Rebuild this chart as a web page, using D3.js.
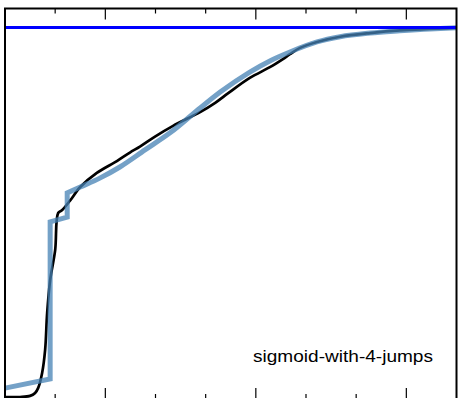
<!DOCTYPE html>
<html><head><meta charset="utf-8">
<script src="https://cdn.jsdelivr.net/npm/d3@7"></script>
<style>html,body{margin:0;padding:0;background:#fff;overflow:hidden}</style>
</head><body>
<script>
// Data (x in arbitrary units 0..9, y as fraction 0..1)
const modelX = [0, 0.90, 0.90, 1.24, 1.24, 1.50, 1.89, 2.29, 2.79, 3.29, 3.89, 4.29, 4.88, 5.28, 5.68, 6.22, 6.68, 7.28, 7.87, 8.47, 9.0];
const modelY = [0.028, 0.053, 0.476, 0.489, 0.554, 0.570, 0.594, 0.624, 0.670, 0.716, 0.783, 0.826, 0.880, 0.910, 0.934, 0.961, 0.975, 0.985, 0.991, 0.996, 0.999];
const empX = [0, 0.30, 0.50, 0.60, 0.66, 0.74, 0.80, 0.84, 0.90, 1.00, 1.06, 1.14, 1.30, 1.50, 1.83, 2.23, 2.49, 2.69, 2.99, 3.35, 3.89, 4.19, 4.45, 4.88, 5.28, 5.54, 5.68, 5.88, 6.22, 6.68, 7.28, 7.87, 9.0];
const empY = [0.004, 0.004, 0.007, 0.015, 0.028, 0.069, 0.131, 0.230, 0.319, 0.400, 0.500, 0.508, 0.534, 0.570, 0.608, 0.640, 0.663, 0.679, 0.706, 0.735, 0.772, 0.797, 0.823, 0.864, 0.893, 0.915, 0.928, 0.945, 0.961, 0.975, 0.985, 0.992, 0.999];
const refLevel = 1.0;
const majorTicks = [2, 5, 8];
const minorTicks = [1, 3, 4, 6, 7];
const label = "sigmoid-with-4-jumps";

(function () {
const W = 458, H = 398;
const pLeft = 5, pRight = 456.5, pTop = 8.5, pBottom = 399;
const svg = d3.select("body").append("svg").attr("width", W).attr("height", H);
const x = d3.scaleLinear().domain([0, 9]).range([pLeft, pRight]);
const y = d3.scaleLinear().domain([0, 1]).range([398.5, 27.5]);

const emp = empX.map((v, i) => [v, empY[i]]);
const mod = modelX.map((v, i) => [v, modelY[i]]);

svg.append("path").attr("d", d3.line().x(d => x(d[0])).y(d => y(d[1])).curve(d3.curveCatmullRom)(emp))
  .attr("fill", "none").attr("stroke", "#000").attr("stroke-width", 2.7);

// model: straight jumps for the first part, smooth curve afterwards
const jumpPart = mod.slice(0, 5);
const smoothPart = mod.slice(4);
const dJump = d3.line().x(d => x(d[0])).y(d => y(d[1])).curve(d3.curveLinear)(jumpPart);
const dSmooth = d3.line().x(d => x(d[0])).y(d => y(d[1])).curve(d3.curveMonotoneX)(smoothPart);
svg.append("path").attr("d", dJump + dSmooth.replace(/^M[^CLQ]*/, ""))
  .attr("fill", "none").attr("stroke", "steelblue").attr("stroke-opacity", 0.75)
  .attr("stroke-width", 5).attr("stroke-linejoin", "miter");

svg.append("line").attr("x1", pLeft).attr("x2", pRight).attr("y1", y(refLevel)).attr("y2", y(refLevel))
  .attr("stroke", "#0000ff").attr("stroke-width", 3);

const tickData = majorTicks.map(t => [t, 11]).concat(minorTicks.map(t => [t, 5]));
tickData.forEach(([t, len]) => {
  svg.append("line").attr("x1", x(t)).attr("x2", x(t)).attr("y1", pTop).attr("y2", pTop + len)
    .attr("stroke", "#000").attr("stroke-width", 1.2);
  svg.append("line").attr("x1", x(t)).attr("x2", x(t)).attr("y1", pBottom).attr("y2", pBottom - len)
    .attr("stroke", "#000").attr("stroke-width", 1.2);
});

svg.append("rect").attr("x", pLeft).attr("y", pTop).attr("width", pRight - pLeft).attr("height", pBottom - pTop)
  .attr("fill", "none").attr("stroke", "#000").attr("stroke-width", 2);

svg.append("text").attr("x", 253).attr("y", 362)
  .attr("font-family", "Liberation Sans, Arial, sans-serif").attr("font-size", 16.5)
  .attr("textLength", 180).attr("lengthAdjust", "spacingAndGlyphs")
  .attr("fill", "#000").text(label);
})();
</script>
</body></html>
